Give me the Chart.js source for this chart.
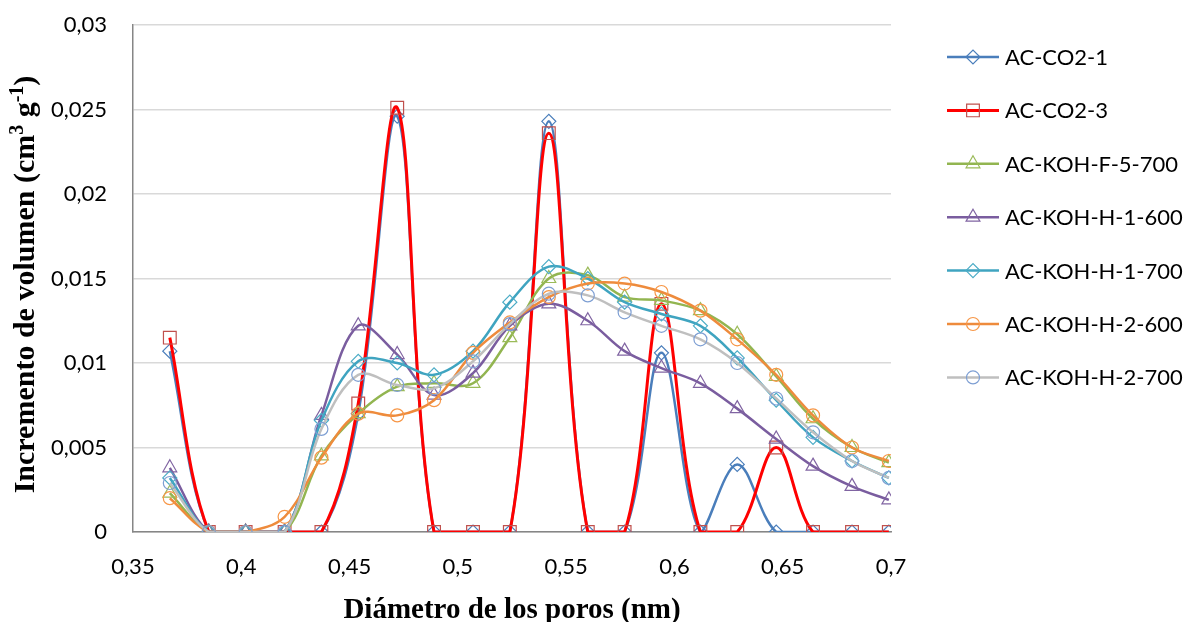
<!DOCTYPE html>
<html>
<head>
<meta charset="utf-8">
<script src="https://cdn.jsdelivr.net/npm/chart.js@4.4.1/dist/chart.umd.min.js"></script>
<style>
html,body{margin:0;padding:0;background:#fff;}
#wrap{width:1188px;height:622px;position:relative;}
</style>
</head>
<body>
<div id="wrap"><canvas id="c" width="1188" height="622"></canvas></div>
<script>
// ---- data ----
const poreDiameters = [0.367,0.385,0.402,0.420,0.437,0.454,0.472,0.489,0.507,0.524,0.542,0.560,0.577,0.594,0.612,0.629,0.647,0.664,0.682,0.699];
const seriesNames = ['AC-CO2-1','AC-CO2-3','AC-KOH-F-5-700','AC-KOH-H-1-600','AC-KOH-H-1-700','AC-KOH-H-2-600','AC-KOH-H-2-700'];
const acCO2_1   = [0.0107,0,0,0,0,0.0070,0.0246,0,0,0,0.0243,0,0,0.0106,0,0.0040,0,0,0,0];
const acCO2_3   = [0.0115,0,0,0,0,0.0076,0.0251,0,0,0,0.0236,0,0,0.0135,0,0,0.0050,0,0,0];
const kohF5_700 = [0.0023,0,0,0,0.0045,0.0070,0.0086,0.0088,0.0088,0.0115,0.0150,0.0152,0.0139,0.0137,0.0131,0.0117,0.0092,0.0067,0.0050,0.0041];
const kohH1_600 = [0.0038,0,0,0,0.0069,0.0122,0.0105,0.0081,0.0094,0.0122,0.0135,0.0125,0.0107,0.0097,0.0088,0.0073,0.0055,0.0039,0.0027,0.0019];
const kohH1_700 = [0.0032,0,0,0,0.0066,0.0101,0.0100,0.0093,0.0107,0.0136,0.0157,0.0150,0.0136,0.0129,0.0122,0.0103,0.0078,0.0056,0.0042,0.0032];
const kohH2_600 = [0.0020,0,0,0.0009,0.0044,0.0070,0.0069,0.0078,0.0106,0.0124,0.0139,0.0147,0.0147,0.0142,0.0131,0.0114,0.0093,0.0069,0.0050,0.0042];
const kohH2_700 = [0.0029,0,0,0,0.0061,0.0093,0.0087,0.0085,0.0101,0.0123,0.0141,0.0140,0.0130,0.0122,0.0114,0.0100,0.0079,0.0059,0.0042,0.0032];
const seriesValues = [acCO2_1, acCO2_3, kohF5_700, kohH1_600, kohH1_700, kohH2_600, kohH2_700];
const xTicks = [0.35,0.40,0.45,0.50,0.55,0.60,0.65,0.70];
const yTicks = [0,0.005,0.01,0.015,0.02,0.025,0.03];
const xTitle = 'Diámetro de los poros (nm)';
const yTitleParts = [['Incremento de volumen (cm',0],['3',1],[' g',0],['-1',1],[')',0]];

// ---- styles ----
const lineColors   = ['#4A7EBB','#FF0000','#92B550','#7A5D9F','#3FA4C0','#EE8B3C','#BFBFBF'];
const markerColors = ['#4A7EBB','#C0504D','#9BBB59','#8064A2','#4BACC6','#F79646','#7E9FD3'];
const markerStyles = ['rectRot','rect','triangle','triangle','rectRot','circle','circle'];
const markerRadii  = [7,9,8,8,7,6.5,6.5];
const lineWidths   = [2.5,3,2.5,2.5,2.5,2.5,2.5];
const uiFont = 'Lato';

const fmt = v => String(+Number(v).toFixed(3)).replace('.',',');

const datasets = seriesNames.map((name,i)=>({
  label: name,
  data: poreDiameters.map((x,j)=>({x:x, y:seriesValues[i][j]})),
  borderColor: lineColors[i],
  backgroundColor: 'transparent',
  borderWidth: lineWidths[i],
  pointStyle: markerStyles[i],
  pointRadius: markerRadii[i],
  pointHoverRadius: markerRadii[i],
  pointBorderColor: markerColors[i],
  pointBackgroundColor: 'rgba(0,0,0,0)',
  pointBorderWidth: 1.2,
  tension: 0.35,
  fill: false,
  order: seriesNames.length - i
}));

function drawMarker(ctx, style, x, y, r) {
  ctx.beginPath();
  if (style === 'rectRot') {
    ctx.moveTo(x-r,y); ctx.lineTo(x,y-r); ctx.lineTo(x+r,y); ctx.lineTo(x,y+r); ctx.closePath();
  } else if (style === 'rect') {
    const s = Math.SQRT1_2*r; ctx.rect(x-s,y-s,2*s,2*s);
  } else if (style === 'triangle') {
    let a = 0;
    ctx.moveTo(x+Math.sin(a)*r, y-Math.cos(a)*r);
    a += 2*Math.PI/3; ctx.lineTo(x+Math.sin(a)*r, y-Math.cos(a)*r);
    a += 2*Math.PI/3; ctx.lineTo(x+Math.sin(a)*r, y-Math.cos(a)*r);
    ctx.closePath();
  } else {
    ctx.arc(x,y,r,0,Math.PI*2);
  }
  ctx.stroke();
}

const customLegend = {
  id: 'customLegend',
  afterDraw(chart) {
    const ctx = chart.ctx;
    const y0 = 57, dy = 53.4;
    chart.data.datasets.forEach((ds,i)=>{
      const y = y0 + i*dy;
      ctx.save();
      ctx.strokeStyle = ds.borderColor;
      ctx.lineWidth = ds.borderWidth;
      ctx.beginPath(); ctx.moveTo(947,y); ctx.lineTo(999,y); ctx.stroke();
      ctx.strokeStyle = ds.pointBorderColor;
      ctx.lineWidth = 1.2;
      drawMarker(ctx, ds.pointStyle, 973, y, ds.pointRadius);
      ctx.fillStyle = '#000';
      ctx.font = '22px "' + uiFont + '"';
      ctx.textBaseline = 'middle';
      ctx.textAlign = 'left';
      ctx.fillText(ds.label, 1005, y+1);
      ctx.restore();
    });
  }
};

const axisTitles = {
  id: 'axisTitles',
  afterDraw(chart) {
    const ctx = chart.ctx;
    const ca = chart.chartArea;
    ctx.save();
    ctx.fillStyle = '#000';
    // x title
    ctx.font = 'bold 29px "Liberation Serif"';
    ctx.textAlign = 'center';
    ctx.textBaseline = 'alphabetic';
    ctx.fillText(xTitle, (ca.left+ca.right)/2, 618);
    // y title
    const size = 30;
    const big = 'bold '+size+'px "Liberation Serif"';
    const small = 'bold '+Math.round(size*0.65)+'px "Liberation Serif"';
    ctx.translate(34, (ca.top+ca.bottom)/2 + 6);
    ctx.rotate(-Math.PI/2);
    let total = 0;
    yTitleParts.forEach(([t,sup])=>{ ctx.font = sup?small:big; total += ctx.measureText(t).width; });
    let x = -total/2;
    ctx.textAlign = 'left';
    yTitleParts.forEach(([t,sup])=>{
      ctx.font = sup?small:big;
      ctx.fillText(t, x, sup ? -size*0.38 : 0);
      x += ctx.measureText(t).width;
    });
    ctx.restore();
  }
};

new Chart(document.getElementById('c'), {
  type: 'line',
  data: { datasets },
  options: {
    responsive: false,
    devicePixelRatio: 1,
    animation: false,
    layout: { padding: { top: 25, right: 297, left: 0, bottom: 0 } },
    plugins: { legend: { display: false }, tooltip: { enabled: false } },
    scales: {
      x: {
        type: 'linear',
        min: xTicks[0], max: xTicks[xTicks.length-1],
        afterBuildTicks: s => { s.ticks = xTicks.map(v=>({value:v})); },
        afterFit: s => { s.height = 90; },
        grid: { display: false, drawTicks: false },
        border: { display: true, color: '#868686', width: 1.5 },
        ticks: { callback: v => fmt(v), color: '#000', font: { family: uiFont, size: 22 }, padding: 22, maxRotation: 0, autoSkip: false }
      },
      y: {
        type: 'linear',
        min: yTicks[0], max: yTicks[yTicks.length-1],
        afterBuildTicks: s => { s.ticks = yTicks.map(v=>({value:v})); },
        afterFit: s => { s.width = 133; s.paddingTop = 0; s.paddingBottom = 0; },
        grid: { color: '#D9D9D9', lineWidth: 1.5, drawTicks: false },
        border: { display: true, color: '#868686', width: 1.5 },
        ticks: { callback: v => fmt(v), color: '#000', font: { family: uiFont, size: 22 }, padding: 26 }
      }
    }
  },
  plugins: [customLegend, axisTitles]
});
</script>
</body>
</html>
